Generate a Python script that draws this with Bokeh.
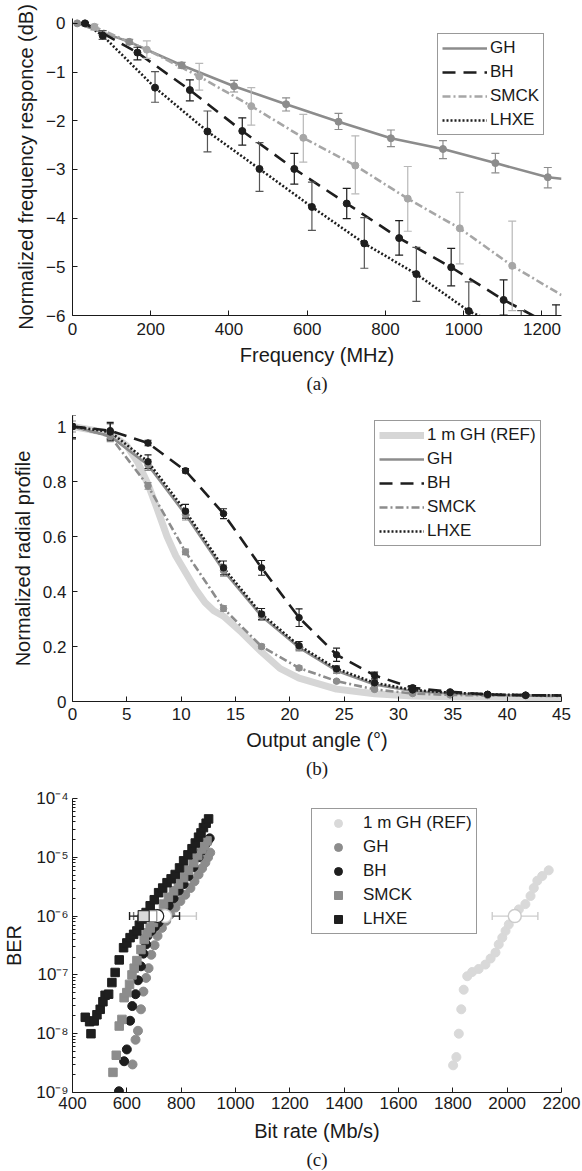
import math
from bokeh.plotting import figure
from bokeh.layouts import column
from bokeh.models import (Legend, LegendItem, FixedTicker, CustomJSTickFormatter, Range1d)
from bokeh.embed import file_html
from bokeh.resources import INLINE

FONT = "Liberation Sans"
SERIF = "Liberation Serif"
INK = "#1a1a1a"

# ---------------- Panel (a): frequency response ----------------
GH_F = [12, 145, 279, 413, 546, 680, 814, 947, 1081, 1215]
GH_DB = [0.0, -0.38, -0.86, -1.29, -1.66, -2.02, -2.36, -2.58, -2.87, -3.16]
GH_HI = [0.0, -0.33, -0.80, -1.17, -1.53, -1.85, -2.19, -2.41, -2.67, -2.96]
GH_LO = [0.0, -0.43, -0.92, -1.41, -1.80, -2.18, -2.53, -2.78, -3.07, -3.38]
GH_LINE_F = [12, 145, 279, 413, 546, 680, 814, 947, 1081, 1215, 1250]
GH_LINE_DB = [0.0, -0.38, -0.86, -1.29, -1.66, -2.02, -2.36, -2.58, -2.87, -3.16, -3.19]

SMCK_F = [56, 190, 324, 457, 590, 723, 857, 990, 1124]
SMCK_DB = [-0.07, -0.54, -1.09, -1.70, -2.35, -2.92, -3.60, -4.21, -4.98]
SMCK_HI = [-0.02, -0.36, -0.82, -1.32, -1.87, -2.31, -2.94, -3.47, -4.06]
SMCK_LO = [-0.14, -0.72, -1.37, -2.09, -2.85, -3.50, -4.27, -4.94, -5.90]
SMCK_LINE_F = [12, 56, 190, 324, 457, 590, 723, 857, 990, 1124, 1250]
SMCK_LINE_DB = [0.0, -0.07, -0.54, -1.09, -1.70, -2.35, -2.92, -3.60, -4.21, -4.98, -5.58]

BH_F = [32, 166, 300, 434, 567, 701, 835, 968, 1102, 1236]
BH_DB = [0.0, -0.60, -1.37, -2.21, -2.99, -3.70, -4.41, -5.01, -5.68, -6.25]
BH_HI = [0.02, -0.49, -1.16, -1.94, -2.67, -3.39, -4.05, -4.62, -5.27, -5.78]
BH_LO = [-0.02, -0.75, -1.59, -2.50, -3.30, -4.01, -4.76, -5.39, -5.99, -6.70]
BH_LINE_F = [32, 166, 300, 434, 567, 701, 835, 968, 1102, 1236, 1250]
BH_LINE_DB = [0.0, -0.60, -1.37, -2.21, -2.99, -3.70, -4.41, -5.01, -5.68, -6.25, -6.31]

LHXE_F = [77, 211, 345, 478, 612, 746, 879, 1013, 1147]
LHXE_DB = [-0.25, -1.32, -2.22, -2.99, -3.77, -4.52, -5.15, -5.91, -6.40]
LHXE_HI = [-0.15, -0.99, -1.80, -2.45, -3.26, -3.99, -4.60, -5.31, -5.90]
LHXE_LO = [-0.33, -1.62, -2.64, -3.45, -4.25, -5.03, -5.71, -6.50, -6.90]
LHXE_LINE_F = [32, 77, 211, 345, 478, 612, 746, 879, 1013, 1147]
LHXE_LINE_DB = [0.0, -0.25, -1.32, -2.22, -2.99, -3.77, -4.52, -5.15, -5.91, -6.40]

FREQ_TICKS = [0, 200, 400, 600, 800, 1000, 1200]
DB_TICKS = [-6, -5, -4, -3, -2, -1, 0]

# ---------------- Panel (b): radial profile ----------------
ANG = [0, 3.47, 6.95, 10.4, 13.9, 17.4, 20.85, 24.3, 27.8, 31.3, 34.75, 38.2, 41.7]
B_GH = [1.0, 0.965, 0.86, 0.68, 0.476, 0.31, 0.196, 0.112, 0.062, 0.038, 0.029, 0.024, 0.022]
B_GH_E = [0.02, 0.02, 0.02, 0.02, 0.02, 0.015, 0.012, 0.01, 0.008, 0.006, 0.005, 0.004, 0.004]
B_BH = [1.0, 0.985, 0.94, 0.839, 0.683, 0.486, 0.305, 0.170, 0.095, 0.050, 0.035, 0.026, 0.023]
B_BH_E = [0.045, 0.03, 0.01, 0.008, 0.018, 0.027, 0.032, 0.024, 0.012, 0.008, 0.005, 0.004, 0.004]
B_SMCK = [1.0, 0.964, 0.784, 0.544, 0.338, 0.200, 0.122, 0.074, 0.044, 0.029, 0.024, 0.022, 0.021]
B_SMCK_E = [0.01, 0.01, 0.012, 0.01, 0.01, 0.008, 0.007, 0.006, 0.005, 0.004, 0.004, 0.004, 0.004]
B_LHXE = [1.0, 0.98, 0.872, 0.692, 0.486, 0.318, 0.203, 0.119, 0.068, 0.042, 0.032, 0.026, 0.023]
B_LHXE_E = [0.04, 0.03, 0.025, 0.025, 0.025, 0.02, 0.015, 0.01, 0.01, 0.008, 0.006, 0.005, 0.005]
B_END_ANG = 45
B_END = {"GH": 0.021, "BH": 0.022, "SMCK": 0.020, "LHXE": 0.022}
REF_ANG = [0, 3.47, 5.0, 6.0, 6.95, 7.8, 8.7, 9.5, 10.4, 11.3, 12.2, 13.0, 13.9, 15.6, 17.4,
           19.1, 20.85, 24.3, 27.8, 31.3, 34.75, 38.2, 41.7, 45]
REF_R = [1.0, 0.975, 0.93, 0.87, 0.79, 0.70, 0.60, 0.53, 0.47, 0.41, 0.36, 0.33, 0.31, 0.25,
         0.18, 0.12, 0.085, 0.045, 0.028, 0.02, 0.017, 0.016, 0.015, 0.015]
ANG_TICKS = [0, 5, 10, 15, 20, 25, 30, 35, 40, 45]
R_TICKS = [0, 0.2, 0.4, 0.6, 0.8, 1]

# ---------------- Panel (c): BER vs bit rate ----------------
C_REF_BR = [1801, 1813, 1822, 1831, 1840, 1853, 1871, 1895, 1920, 1939, 1957, 1969, 1982, 1994,
            2006, 2024, 2043, 2067, 2086, 2098, 2111, 2129, 2153]
C_REF_BER = [2.9e-9, 4.0e-9, 1.0e-8, 2.6e-8, 5.6e-8, 9.5e-8, 1.12e-7, 1.26e-7, 1.5e-7, 1.9e-7,
             2.4e-7, 3.3e-7, 4.3e-7, 5.6e-7, 7.2e-7, 1.0e-6, 1.3e-6, 1.6e-6, 2.2e-6, 3.0e-6,
             4.0e-6, 4.8e-6, 6.0e-6]
C_GH_BR = [621, 632, 641, 652, 661, 671, 680, 690, 702, 713, 729, 745, 760, 779, 797, 815, 834,
           849, 864, 877, 889, 899, 907]
C_GH_BER = [3.0e-9, 7.9e-9, 1.12e-8, 2.6e-8, 5.2e-8, 8.9e-8, 1.3e-7, 2.2e-7, 3.2e-7, 4.6e-7,
            6.3e-7, 8.3e-7, 1.07e-6, 1.4e-6, 1.8e-6, 2.3e-6, 3.0e-6, 3.9e-6, 5.1e-6, 6.5e-6,
            8.1e-6, 1.0e-5, 1.2e-5]
C_BH_BR = [571, 590, 600, 612, 620, 632, 641, 652, 661, 671, 676, 690, 703, 717, 735, 754, 772,
           791, 809, 827, 845, 864, 877, 889, 897, 905]
C_BH_BER = [1.05e-9, 3.4e-9, 5.4e-9, 1.66e-8, 2.95e-8, 4.7e-8, 8.1e-8, 1.4e-7, 2.3e-7, 3.3e-7,
            4.6e-7, 5.6e-7, 6.6e-7, 7.8e-7, 1.07e-6, 1.5e-6, 2.0e-6, 2.7e-6, 3.5e-6, 4.8e-6,
            6.8e-6, 1.0e-5, 1.3e-5, 1.65e-5, 1.85e-5, 2.1e-5]
C_SMCK_BR = [549, 561, 572, 582, 590, 600, 610, 619, 627, 637, 652, 664, 674, 686, 698, 716, 735,
             753, 772, 790, 809, 827, 846, 861, 877, 886, 895]
C_SMCK_BER = [2.2e-9, 4.3e-9, 1.35e-8, 1.75e-8, 4.1e-8, 5.0e-8, 6.9e-8, 1.0e-7, 1.3e-7, 1.75e-7,
              2.7e-7, 4.0e-7, 5.2e-7, 6.3e-7, 7.8e-7, 1.1e-6, 1.6e-6, 2.1e-6, 2.7e-6, 3.5e-6,
              4.5e-6, 6.0e-6, 8.1e-6, 1.07e-5, 1.38e-5, 1.6e-5, 1.9e-5]
C_LHXE_BR = [447, 463, 468, 480, 490, 502, 512, 520, 533, 545, 557, 572, 588, 600, 612, 625, 637,
             646, 656, 671, 686, 701, 717, 732, 748, 763, 778, 794, 809, 825, 840, 852, 864, 873,
             882, 892, 901]
C_LHXE_BER = [1.9e-8, 1.6e-8, 1.0e-8, 1.65e-8, 2.1e-8, 2.6e-8, 3.5e-8, 4.5e-8, 4.7e-8, 7.4e-8,
              1.1e-7, 1.8e-7, 2.9e-7, 3.5e-7, 4.3e-7, 4.9e-7, 5.6e-7, 7.0e-7, 8.9e-7, 1.15e-6,
              1.5e-6, 1.9e-6, 2.5e-6, 3.0e-6, 3.7e-6, 4.3e-6, 5.1e-6, 6.6e-6, 8.7e-6, 1.1e-5,
              1.4e-5, 1.75e-5, 2.2e-5, 2.6e-5, 3.2e-5, 3.8e-5, 4.5e-5]
# mean bit rate at BER = 1e-6 with spread
MEAN_BER = 1e-6
MEAN_BR = {"LHXE": 662, "SMCK": 690, "BH": 712, "GH": 741, "REF": 2028}
MEAN_LO = {"LHXE": 610, "SMCK": 625, "BH": 652, "GH": 700, "REF": 1945}
MEAN_HI = {"LHXE": 713, "SMCK": 755, "BH": 794, "GH": 856, "REF": 2113}
BR_TICKS = [400, 600, 800, 1000, 1200, 1400, 1600, 1800, 2000, 2200]
BER_TICKS = [1e-9, 1e-8, 1e-7, 1e-6, 1e-5, 1e-4]

C_LIGHT = "#d9d9d9"
C_MID = "#8c8c8c"
C_SMCK_A = "#a6a6a6"
C_DARK = "#1e1e1e"


def style(p, xlabel, ylabel, lab_standoff, axlab_standoff):
    p.outline_line_color = None
    p.xgrid.visible = False
    p.ygrid.visible = False
    p.background_fill_color = "white"
    p.border_fill_color = "white"
    for ax in (p.xaxis[0], p.yaxis[0]):
        ax.major_tick_in = 5
        ax.major_tick_out = 0
        ax.minor_tick_in = 0
        ax.minor_tick_out = 0
        ax.axis_line_color = INK
        ax.major_tick_line_color = INK
        ax.minor_tick_line_color = INK
        ax.major_label_text_font = FONT
        ax.major_label_text_font_size = "17px"
        ax.major_label_text_color = INK
        ax.axis_label_text_font = FONT
        ax.axis_label_text_font_size = "20px"
        ax.axis_label_text_font_style = "normal"
        ax.axis_label_text_color = INK
        ax.major_label_standoff = lab_standoff
        ax.axis_label_standoff = axlab_standoff
    p.xaxis.axis_label = xlabel
    p.yaxis.axis_label = ylabel
    p.title.align = "center"
    p.title.text_font = SERIF
    p.title.text_font_size = "19px"
    p.title.text_font_style = "normal"
    p.title.text_color = INK
    p.title.standoff = 4


def legend_style(lg, glyph_width):
    lg.border_line_color = "#333333"
    lg.border_line_width = 1
    lg.background_fill_color = "white"
    lg.background_fill_alpha = 1
    lg.label_text_font = FONT
    lg.label_text_font_size = "17px"
    lg.label_text_color = INK
    lg.glyph_width = glyph_width
    lg.glyph_height = 20
    lg.label_height = 20
    lg.label_standoff = 3
    lg.spacing = 4
    lg.padding = 4
    lg.margin = 0


def vbars(p, xs, lo, hi, color, cap=8, width=1.2):
    p.segment(x0=xs, y0=lo, x1=xs, y1=hi, line_color=color, line_width=width)
    p.scatter(xs, lo, marker="dash", size=cap, line_color=color, line_width=width)
    p.scatter(xs, hi, marker="dash", size=cap, line_color=color, line_width=width)


def hbars(p, lo, hi, y, color, cap=8, width=1.4):
    p.segment(x0=[lo], y0=[y], x1=[hi], y1=[y], line_color=color, line_width=width)
    p.scatter([lo, hi], [y, y], marker="dash", angle=math.pi / 2, size=cap,
              line_color=color, line_width=width)


# ================= Figure (a) =================
p1 = figure(width=582, height=395, x_range=Range1d(0, 1250), y_range=Range1d(-6, 0.1),
            output_backend="svg", toolbar_location=None, title="(a)", title_location="below",
            min_border_left=72, min_border_right=19, min_border_top=18, min_border_bottom=77)
style(p1, "Frequency (MHz)", "Normalized frequency responce (dB)", 7, 6)
p1.xaxis.ticker = FREQ_TICKS
p1.yaxis.ticker = DB_TICKS

r_gh = p1.line(GH_LINE_F, GH_LINE_DB, line_color=C_MID, line_width=2.6)
r_smck = p1.line(SMCK_LINE_F, SMCK_LINE_DB, line_color=C_SMCK_A, line_width=2.6,
                 line_dash="8 3 2 3")
r_bh = p1.line(BH_LINE_F, BH_LINE_DB, line_color=C_DARK, line_width=2.6, line_dash="13 8")
r_lhxe = p1.line(LHXE_LINE_F, LHXE_LINE_DB, line_color=C_DARK, line_width=2.6, line_dash="2 2")
vbars(p1, GH_F, GH_LO, GH_HI, C_MID)
vbars(p1, SMCK_F, SMCK_LO, SMCK_HI, "#b8b8b8")
vbars(p1, BH_F, BH_LO, BH_HI, C_DARK)
vbars(p1, LHXE_F, LHXE_LO, LHXE_HI, "#555555")
p1.scatter(GH_F, GH_DB, size=7, color=C_MID)
p1.scatter(SMCK_F, SMCK_DB, size=7, color=C_SMCK_A)
p1.scatter(BH_F, BH_DB, size=7, color=C_DARK)
p1.scatter(LHXE_F, LHXE_DB, size=7, color=C_DARK)

lg1 = Legend(items=[LegendItem(label="GH", renderers=[r_gh]),
                    LegendItem(label="BH", renderers=[r_bh]),
                    LegendItem(label="SMCK", renderers=[r_smck]),
                    LegendItem(label="LHXE", renderers=[r_lhxe])],
             location=(365, 180))
legend_style(lg1, 45)
p1.add_layout(lg1)

# ================= Figure (b) =================
p2 = figure(width=582, height=385, x_range=Range1d(0, 45), y_range=Range1d(0, 1.04),
            output_backend="svg", toolbar_location=None, title="(b)", title_location="below",
            min_border_left=72, min_border_right=21, min_border_top=20, min_border_bottom=76)
style(p2, "Output angle (°)", "Normalized radial profile", 6, 6)
p2.xaxis.ticker = ANG_TICKS
p2.yaxis.ticker = R_TICKS

r_ref2 = p2.line(REF_ANG, REF_R, line_color="#d6d6d6", line_width=7)
r_gh2 = p2.line(ANG + [B_END_ANG], B_GH + [B_END["GH"]], line_color=C_MID, line_width=2.6)
r_smck2 = p2.line(ANG + [B_END_ANG], B_SMCK + [B_END["SMCK"]], line_color=C_MID,
                  line_width=2.6, line_dash="8 3 2 3")
r_bh2 = p2.line(ANG + [B_END_ANG], B_BH + [B_END["BH"]], line_color=C_DARK, line_width=2.6,
                line_dash="13 8")
r_lhxe2 = p2.line(ANG + [B_END_ANG], B_LHXE + [B_END["LHXE"]], line_color=C_DARK,
                  line_width=2.6, line_dash="2 2")
for vals, errs, col in ((B_GH, B_GH_E, C_MID), (B_SMCK, B_SMCK_E, C_MID),
                        (B_BH, B_BH_E, C_DARK), (B_LHXE, B_LHXE_E, C_DARK)):
    vbars(p2, ANG, [v - e for v, e in zip(vals, errs)], [v + e for v, e in zip(vals, errs)],
          col, cap=7, width=1.1)
p2.scatter(ANG, B_GH, size=6.5, color=C_MID)
p2.scatter(ANG, B_SMCK, size=6.5, color=C_MID)
p2.scatter(ANG, B_BH, size=6.5, color=C_DARK)
p2.scatter(ANG, B_LHXE, size=6.5, color=C_DARK)

lg2 = Legend(items=[LegendItem(label="1 m GH (REF)", renderers=[r_ref2]),
                    LegendItem(label="GH", renderers=[r_gh2]),
                    LegendItem(label="BH", renderers=[r_bh2]),
                    LegendItem(label="SMCK", renderers=[r_smck2]),
                    LegendItem(label="LHXE", renderers=[r_lhxe2])],
             location=(302, 155))
legend_style(lg2, 45)
p2.add_layout(lg2)

# ================= Figure (c) =================
p3 = figure(width=582, height=391, x_range=Range1d(400, 2200), y_range=Range1d(1e-9, 1e-4),
            y_axis_type="log", output_backend="svg", toolbar_location=None, title="(c)",
            title_location="below", min_border_left=72, min_border_right=21, min_border_top=18,
            min_border_bottom=79)
style(p3, "Bit rate (Mb/s)", "BER", 4, 8)
p3.xaxis.ticker = BR_TICKS
minor = [m * 10.0 ** e for e in range(-9, -4) for m in range(2, 10)]
p3.yaxis.ticker = FixedTicker(ticks=BER_TICKS, minor_ticks=minor)
p3.yaxis.minor_tick_in = 3
p3.yaxis.formatter = CustomJSTickFormatter(code="""
const sup = {"-": "\u207b", "0": "\u2070", "1": "\u00b9", "2": "\u00b2", "3": "\u00b3",
             "4": "\u2074", "5": "\u2075", "6": "\u2076", "7": "\u2077", "8": "\u2078",
             "9": "\u2079"};
const e = Math.round(Math.log10(tick));
return "10" + String(e).split("").map(c => sup[c]).join("");
""")

r_ref3 = p3.scatter(C_REF_BR, C_REF_BER, marker="circle", size=9, color=C_LIGHT)
r_gh3 = p3.scatter(C_GH_BR, C_GH_BER, marker="circle", size=9, color=C_MID)
r_bh3 = p3.scatter(C_BH_BR, C_BH_BER, marker="circle", size=9, color=C_DARK)
r_smck3 = p3.scatter(C_SMCK_BR, C_SMCK_BER, marker="square", size=8.5, color=C_MID)
r_lhxe3 = p3.scatter(C_LHXE_BR, C_LHXE_BER, marker="square", size=8.5, color=C_DARK)

hbars(p3, MEAN_LO["REF"], MEAN_HI["REF"], MEAN_BER, "#cccccc")
hbars(p3, MEAN_LO["GH"], MEAN_HI["GH"], MEAN_BER, "#c8c8c8")
hbars(p3, MEAN_LO["SMCK"], MEAN_HI["SMCK"], MEAN_BER, "#777777")
hbars(p3, MEAN_LO["BH"], MEAN_HI["BH"], MEAN_BER, C_DARK)
hbars(p3, MEAN_LO["LHXE"], MEAN_HI["LHXE"], MEAN_BER, C_DARK)
p3.scatter([MEAN_BR["REF"]], [MEAN_BER], marker="circle", size=13, fill_color="white",
           line_color="#cccccc", line_width=1.5)
p3.scatter([MEAN_BR["GH"]], [MEAN_BER], marker="circle", size=13, fill_color="white",
           line_color="#c8c8c8", line_width=1.5)
p3.scatter([MEAN_BR["BH"]], [MEAN_BER], marker="circle", size=13, fill_color="white",
           line_color=C_DARK, line_width=1.2)
p3.scatter([MEAN_BR["SMCK"]], [MEAN_BER], marker="square", size=11, fill_color="white",
           line_color=C_MID, line_width=1.2)
p3.scatter([MEAN_BR["LHXE"]], [MEAN_BER], marker="square", size=11, fill_color="#d9d9d9",
           line_color="#333333", line_width=1.2)

lg3 = Legend(items=[LegendItem(label="1 m GH (REF)", renderers=[r_ref3]),
                    LegendItem(label="GH", renderers=[r_gh3]),
                    LegendItem(label="BH", renderers=[r_bh3]),
                    LegendItem(label="SMCK", renderers=[r_smck3]),
                    LegendItem(label="LHXE", renderers=[r_lhxe3])],
             location=(239, 158))
legend_style(lg3, 44)
p3.add_layout(lg3)

layout = column(p1, p2, p3, spacing=0)
open("out.html", "w").write(file_html(layout, INLINE))
